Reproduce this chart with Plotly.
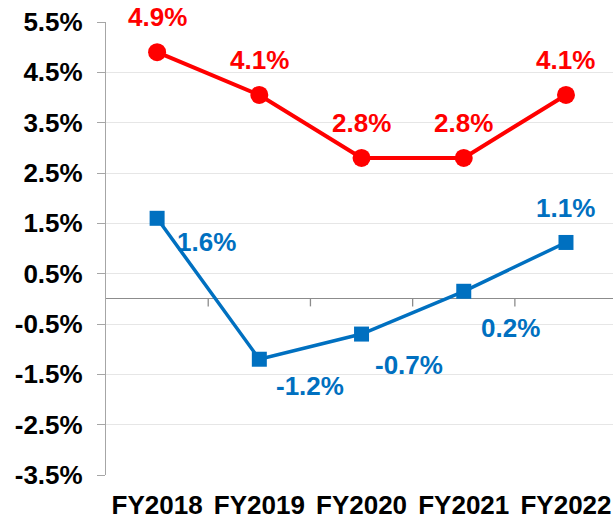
import plotly.graph_objects as go

categories = ["FY2018", "FY2019", "FY2020", "FY2021", "FY2022"]
red_values = [4.9, 4.05, 2.8, 2.8, 4.05]
red_labels = ["4.9%", "4.1%", "2.8%", "2.8%", "4.1%"]
blue_values = [1.6, -1.2, -0.7, 0.15, 1.12]
blue_labels = ["1.6%", "-1.2%", "-0.7%", "0.2%", "1.1%"]
y_ticks = [-3.5, -2.5, -1.5, -0.5, 0.5, 1.5, 2.5, 3.5, 4.5, 5.5]

RED = "#FF0000"
BLUE = "#0070C0"
FONT = "Liberation Sans, Arial, sans-serif"
LABEL_SIZE = 26

red_offsets = [(0, 35)] * 5
blue_offsets = [(49, -24), (51, -27), (47, -31), (47, -37), (0, 34)]

fig = go.Figure()
fig.add_trace(go.Scatter(
    x=categories, y=red_values, mode="lines+markers",
    line=dict(color=RED, width=4),
    marker=dict(symbol="circle", size=18, color=RED),
    showlegend=False, hoverinfo="skip", cliponaxis=False))
fig.add_trace(go.Scatter(
    x=categories, y=blue_values, mode="lines+markers",
    line=dict(color=BLUE, width=3.5),
    marker=dict(symbol="square", size=15, color=BLUE),
    showlegend=False, hoverinfo="skip", cliponaxis=False))

for i, (v, t) in enumerate(zip(red_values, red_labels)):
    fig.add_annotation(x=i, y=v, text=t, showarrow=False,
                       xshift=red_offsets[i][0], yshift=red_offsets[i][1],
                       font=dict(family=FONT, size=LABEL_SIZE, color=RED, weight="bold"))
for i, (v, t) in enumerate(zip(blue_values, blue_labels)):
    fig.add_annotation(x=i, y=v, text=t, showarrow=False,
                       xshift=blue_offsets[i][0], yshift=blue_offsets[i][1],
                       font=dict(family=FONT, size=LABEL_SIZE, color=BLUE, weight="bold"))

# tick marks on the zero line at category boundaries
for i in range(len(categories) - 1):
    fig.add_shape(type="line", xref="x", yref="y", x0=i + 0.5, x1=i + 0.5,
                  y0=0, y1=-0.15, line=dict(color="#8c8c8c", width=1.3), layer="below")

fig.update_layout(
    width=613, height=520,
    margin=dict(l=106, r=0, t=22, b=45, autoexpand=False),
    paper_bgcolor="white", plot_bgcolor="white",
    font=dict(family=FONT, size=26, color="black"),
)
fig.update_xaxes(
    type="category", range=[-0.5, 4.46], automargin=False,
    showgrid=False, zeroline=False, showline=False, ticks="",
    tickfont=dict(family=FONT, size=26, color="black", weight="bold"),
    ticklabelstandoff=12,
)
fig.update_yaxes(
    range=[-3.5, 5.5], tickvals=y_ticks, ticktext=[f"{v:.1f}%" for v in y_ticks],
    automargin=False,
    showgrid=True, gridcolor="#e6e6e6", gridwidth=1,
    zeroline=True, zerolinecolor="#8c8c8c", zerolinewidth=1.3,
    showline=True, linecolor="#a6a6a6", linewidth=1.3,
    ticks="outside", ticklen=8, tickcolor="#a6a6a6", tickwidth=1.3,
    tickfont=dict(family=FONT, size=26, color="black", weight="bold"),
    ticklabelstandoff=9,
)

fig.write_html(
    "out.html",
    config={"displayModeBar": False},
    post_script="document.body.style.margin='0';document.body.style.overflow='hidden';",
)
